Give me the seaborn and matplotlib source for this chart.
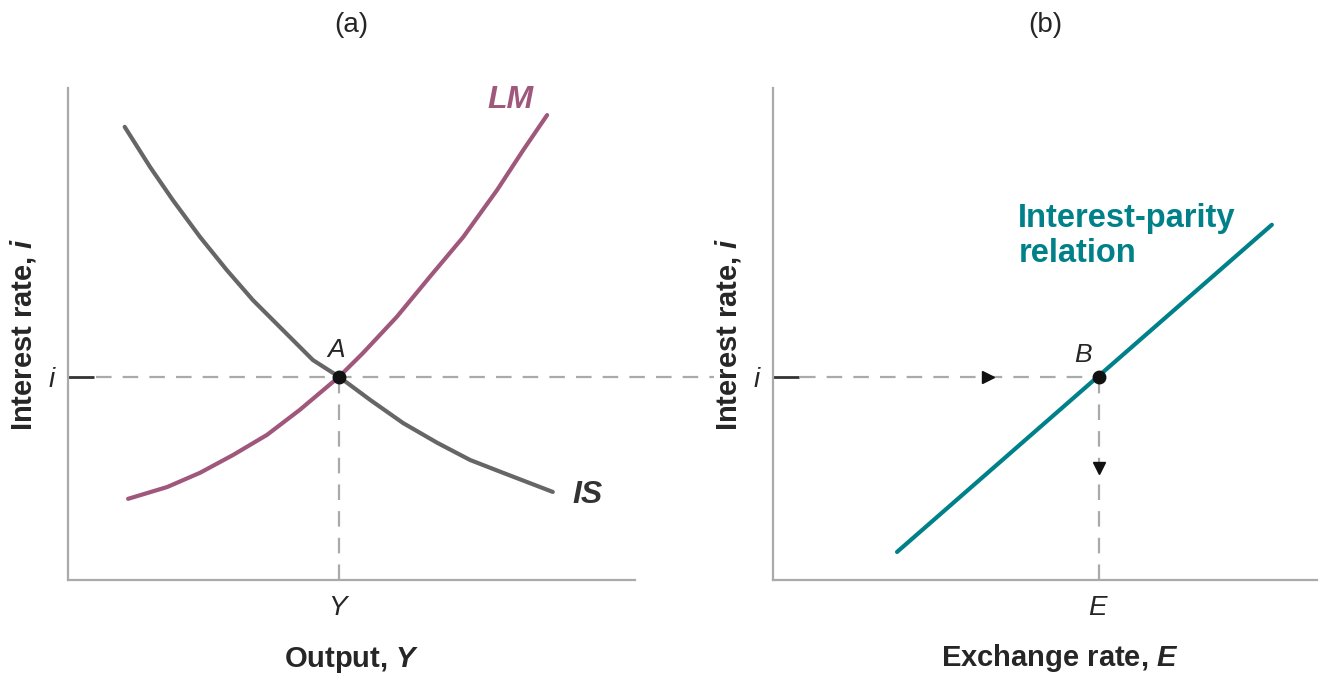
import matplotlib
matplotlib.use("Agg")
import matplotlib.pyplot as plt
import seaborn as sns
import pandas as pd

# ---- data (in 0-10 axis units) ----
is_x = [1.00, 1.45, 1.85, 2.33, 2.80, 3.26, 3.79, 4.32, 4.78, 5.33, 5.91, 6.51, 7.09, 7.67, 8.55]
is_y = [9.21, 8.39, 7.72, 6.97, 6.30, 5.69, 5.08, 4.47, 4.13, 3.66, 3.19, 2.79, 2.44, 2.18, 1.79]
lm_x = [1.06, 1.75, 2.33, 2.91, 3.51, 4.09, 4.78, 5.20, 5.80, 6.38, 6.97, 7.57, 8.03, 8.45]
lm_y = [1.65, 1.89, 2.18, 2.54, 2.95, 3.46, 4.13, 4.61, 5.35, 6.16, 6.97, 7.93, 8.74, 9.45]
ip_x = [2.28, 9.17]
ip_y = [0.57, 7.22]
eq_i = 4.13
eq_Y = 4.78
eq_E = 5.99
arrow_h_x = 3.95
arrow_v_y = 2.28

sns.set_theme(style="white")
plt.rcParams['font.family'] = ['Liberation Sans', 'DejaVu Sans']
plt.rcParams['mathtext.fontset'] = 'custom'
plt.rcParams['mathtext.bf'] = 'Liberation Sans:bold:italic'
plt.rcParams['mathtext.it'] = 'Liberation Sans:italic'
plt.rcParams['mathtext.rm'] = 'Liberation Sans'

GRAY = '#aaaaaa'
LMC = '#a0577c'
ISC = '#666666'
TEAL = '#00818a'
FS = 21

fig = plt.figure(figsize=(13.35, 6.75), dpi=100)
axL = fig.add_axes([68/1335, 1-580/675, 567/1335, 492/675])
axR = fig.add_axes([773/1335, 1-580/675, 544/1335, 492/675])

for ax in (axL, axR):
    ax.set_xlim(0, 10)
    ax.set_ylim(0, 10)
    for s in ('top', 'right'):
        ax.spines[s].set_visible(False)
    for s in ('left', 'bottom'):
        ax.spines[s].set_color(GRAY)
        ax.spines[s].set_linewidth(1.6)
    ax.set_yticks([eq_i])
    ax.set_yticklabels(['$i$'], fontsize=20)
    ax.tick_params(axis='y', left=True, direction='in', length=19, width=2,
                   color='#333333', pad=8)
    ax.tick_params(axis='x', bottom=False, length=0, pad=11)

dash = dict(color=GRAY, lw=1.6, dashes=(7, 5))

# Left panel
dfIS = pd.DataFrame({'x': is_x, 'y': is_y})
dfLM = pd.DataFrame({'x': lm_x, 'y': lm_y})
axL.plot([0.5, 11.4], [eq_i, eq_i], clip_on=False, zorder=1, **dash)
axL.plot([eq_Y, eq_Y], [0, eq_i], zorder=1, **dash)
sns.lineplot(data=dfIS, x='x', y='y', sort=False, color=ISC, lw=3, ax=axL, zorder=3)
sns.lineplot(data=dfLM, x='x', y='y', sort=False, color=LMC, lw=3, ax=axL, zorder=3)
axL.plot([eq_Y], [eq_i], 'o', color='#111111', ms=9, zorder=5)
axL.text(eq_Y - 0.05, eq_i + 0.3, 'A', fontsize=19, style='italic', ha='center', va='bottom')
axL.text(7.39, 9.76, 'LM', fontsize=23, fontweight='bold', style='italic', color=LMC, va='center')
axL.text(8.89, 1.73, 'IS', fontsize=23, fontweight='bold', style='italic', color='#333333', va='center')
axL.set_xticks([eq_Y])
axL.set_xticklabels(['$Y$'], fontsize=20)
axL.set_xlabel(r'Output, $\mathbf{Y}$', fontsize=FS, fontweight='bold', labelpad=17)
axL.set_ylabel(r'Interest rate, $\mathbf{i}$', fontsize=FS, fontweight='bold', labelpad=7)
axL.set_title('(a)', fontsize=20, pad=40)

# Right panel
dfIP = pd.DataFrame({'x': ip_x, 'y': ip_y})
axR.plot([0.5, eq_E], [eq_i, eq_i], zorder=1, **dash)
axR.plot([eq_E, eq_E], [0, eq_i], zorder=1, **dash)
sns.lineplot(data=dfIP, x='x', y='y', sort=False, color=TEAL, lw=3, ax=axR, zorder=3)
axR.plot([arrow_h_x], [eq_i], '>', color='#111111', ms=9, zorder=4)
axR.plot([eq_E], [arrow_v_y], 'v', color='#111111', ms=9, zorder=4)
axR.plot([eq_E], [eq_i], 'o', color='#111111', ms=9, zorder=5)
axR.text(eq_E - 0.3, eq_i + 0.2, 'B', fontsize=19, style='italic', ha='center', va='bottom')
axR.text(4.51, 6.99, 'Interest-parity\nrelation', fontsize=23.5, fontweight='bold', color=TEAL,
         va='center', ha='left', linespacing=1.15)
axR.set_xticks([eq_E])
axR.set_xticklabels(['$E$'], fontsize=20)
axR.set_xlabel(r'Exchange rate, $\mathbf{E}$', fontsize=FS, fontweight='bold', labelpad=17)
axR.xaxis.set_label_coords(0.527, -0.125)
axR.set_ylabel(r'Interest rate, $\mathbf{i}$', fontsize=FS, fontweight='bold', labelpad=7)
axR.set_title('(b)', fontsize=20, pad=40)

fig.savefig('out.png', dpi=100)
